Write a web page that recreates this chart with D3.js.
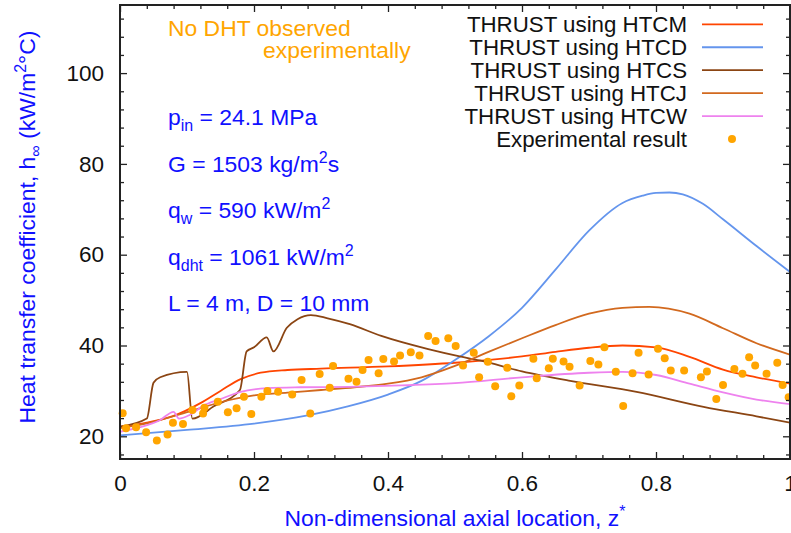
<!DOCTYPE html>
<html>
<head>
<meta charset="utf-8">
<script src="https://cdn.jsdelivr.net/npm/d3@7"></script>
<style>
  html, body { margin: 0; padding: 0; background: #fff; }
  svg { display: block; }
  text { font-family: "Liberation Sans", Arial, Helvetica, sans-serif; }
</style>
</head>
<body>
<svg id="chart" width="791" height="533"></svg>
<script>
// ---------------- data ----------------
const xMajorTicks = [0, 0.2, 0.4, 0.6, 0.8, 1];
const xTickLabels = ["0", "0.2", "0.4", "0.6", "0.8", "1"];
const yMajorTicks = [20, 40, 60, 80, 100];
const yTickLabels = ["20", "40", "60", "80", "100"];

const htcm = [[0,22.1],[0.04,23.0],[0.08,24.5],[0.12,27.3],[0.15,30.0],[0.18,32.6],[0.21,34.0],[0.25,34.6],[0.3,34.9],[0.4,35.4],[0.5,36.2],[0.6,37.6],[0.65,38.6],[0.7,39.5],[0.75,40.0],[0.8,39.6],[0.85,37.5],[0.9,34.7],[0.95,33.0],[1.0,31.6]];
const htcd = [[0,20.2],[0.1,21.4],[0.2,22.8],[0.28,24.6],[0.34,26.6],[0.4,29.2],[0.45,32.2],[0.5,36.8],[0.55,42.0],[0.6,48.3],[0.65,56.7],[0.7,65.3],[0.75,71.4],[0.78,73.0],[0.8,73.6],[0.82,73.7],[0.84,73.3],[0.87,71.2],[0.9,67.8],[0.95,61.9],[1.0,56.2]];
const htcs = [[0,22.1],[0.04,23.9],[0.05,31.8],[0.06,33.0],[0.1,34.2],[0.108,23.9],[0.14,26.6],[0.179,30.2],[0.189,38.7],[0.2,39.6],[0.219,41.8],[0.229,38.7],[0.249,43.9],[0.265,45.8],[0.285,46.7],[0.31,46.0],[0.343,44.7],[0.39,42.1],[0.46,39.2],[0.507,37.6],[0.537,36.7],[0.6,34.3],[0.672,32.2],[0.771,29.8],[0.871,26.5],[0.95,24.4],[1.0,23.0]];
const htcj = [[0,21.8],[0.05,23.2],[0.1,25.3],[0.15,27.5],[0.2,29.0],[0.25,29.6],[0.3,30.2],[0.35,30.8],[0.4,31.6],[0.45,33.0],[0.5,35.5],[0.55,38.6],[0.6,41.6],[0.65,44.5],[0.7,47.0],[0.75,48.3],[0.79,48.5],[0.85,47.0],[0.9,43.8],[0.95,40.5],[1.0,38.0]];
const htcw = [[0,21.0],[0.03,22.0],[0.06,23.6],[0.08,25.4],[0.088,23.9],[0.104,24.7],[0.124,26.7],[0.15,28.2],[0.18,29.8],[0.22,30.6],[0.27,30.8],[0.343,30.9],[0.42,31.2],[0.5,31.7],[0.6,33.0],[0.7,34.0],[0.75,34.2],[0.8,33.5],[0.85,31.6],[0.9,29.7],[0.95,28.1],[1.0,27.1]];
const experiment = [[0.004,25.1],[0.009,21.8],[0.024,22.0],[0.039,20.9],[0.055,19.1],[0.071,20.4],[0.079,23.0],[0.094,22.7],[0.108,25.8],[0.124,25.0],[0.126,26.3],[0.146,27.6],[0.161,25.3],[0.174,26.2],[0.185,28.7],[0.196,24.9],[0.211,28.7],[0.220,30.0],[0.236,29.8],[0.257,29.2],[0.271,32.4],[0.284,25.0],[0.298,33.7],[0.313,30.7],[0.318,35.5],[0.341,32.7],[0.353,32.0],[0.362,34.6],[0.371,36.8],[0.386,33.9],[0.393,37.0],[0.409,36.5],[0.418,37.8],[0.434,38.5],[0.447,37.8],[0.460,42.1],[0.471,41.0],[0.490,41.6],[0.501,39.9],[0.512,35.6],[0.528,38.4],[0.536,33.0],[0.549,36.4],[0.560,31.0],[0.578,35.1],[0.584,28.8],[0.596,31.2],[0.617,37.1],[0.622,32.8],[0.640,35.0],[0.646,37.1],[0.662,36.5],[0.671,35.3],[0.686,31.2],[0.702,36.6],[0.714,35.8],[0.723,39.6],[0.740,34.2],[0.751,26.7],[0.765,33.9],[0.774,38.4],[0.789,33.6],[0.803,39.3],[0.813,37.2],[0.822,34.5],[0.842,34.5],[0.867,33.0],[0.876,34.3],[0.890,28.2],[0.900,31.3],[0.917,34.8],[0.929,33.8],[0.939,37.4],[0.948,35.6],[0.965,33.8],[0.981,36.2],[0.989,31.3],[0.998,28.6]];

const seriesNames = ["THRUST using HTCM", "THRUST using HTCD", "THRUST using HTCS", "THRUST using HTCJ", "THRUST using HTCW"];
const seriesData = [htcm, htcd, htcs, htcj, htcw];
const seriesColors = ["#ff4500", "#6495ed", "#8b4513", "#d2691e", "#ee82ee"];
const expName = "Experimental result";
const expColor = "#ffa500";

// ---------------- layout ----------------
const svg = d3.select("#chart");
const pL = 120, pR = 790, pT = 5, pB = 459;
const x = d3.scaleLinear().domain([0, 1]).range([pL, pR]);
const y = d3.scaleLinear().domain([15, 115]).range([pB, pT]);

const xMinor = d3.range(0, 1.0001, 0.04).filter(v => Math.abs(v / 0.2 - Math.round(v / 0.2)) > 1e-6);
const yMinor = d3.range(16, 115, 4).filter(v => v % 20 !== 0);

svg.append("clipPath").attr("id", "clip").append("rect")
  .attr("x", pL).attr("y", pT).attr("width", pR - pL).attr("height", pB - pT);

// ---------------- lines ----------------
const line = d3.line().x(d => x(d[0])).y(d => y(d[1])).curve(d3.curveMonotoneX);
const gLines = svg.append("g").attr("clip-path", "url(#clip)");
seriesData.forEach((s, i) => {
  gLines.append("path").datum(s).attr("d", line)
    .attr("fill", "none").attr("stroke", seriesColors[i]).attr("stroke-width", 1.8);
});

// ---------------- points ----------------
svg.append("g").selectAll("circle").data(experiment).join("circle")
  .attr("cx", d => x(d[0])).attr("cy", d => y(d[1])).attr("r", 4)
  .attr("fill", expColor);

// ---------------- axes ----------------
const tickFont = 22.5, textFont = 22.9, legFont = 22.3;
function styleAxis(g) {
  g.select(".domain").remove();
  g.selectAll("line").attr("stroke", "#222").attr("stroke-width", 1.3);
  g.selectAll("text").attr("font-size", tickFont).attr("fill", "#111")
    .attr("font-family", '"Liberation Sans", Arial, sans-serif');
}
svg.append("g").attr("transform", `translate(0,${pB})`)
  .call(d3.axisBottom(x).tickValues(xMajorTicks).tickFormat((d, i) => xTickLabels[i]).tickSizeInner(-7).tickSizeOuter(0).tickPadding(16))
  .call(styleAxis);
svg.append("g").attr("transform", `translate(0,${pB})`)
  .call(d3.axisBottom(x).tickValues(xMinor).tickFormat("").tickSizeInner(-4).tickSizeOuter(0))
  .call(styleAxis);
svg.append("g").attr("transform", `translate(0,${pT})`)
  .call(d3.axisTop(x).tickValues(xMajorTicks).tickFormat("").tickSizeInner(-7).tickSizeOuter(0))
  .call(styleAxis);
svg.append("g").attr("transform", `translate(0,${pT})`)
  .call(d3.axisTop(x).tickValues(xMinor).tickFormat("").tickSizeInner(-4).tickSizeOuter(0))
  .call(styleAxis);
svg.append("g").attr("transform", `translate(${pL},0)`)
  .call(d3.axisLeft(y).tickValues(yMajorTicks).tickFormat((d, i) => yTickLabels[i]).tickSizeInner(-7).tickSizeOuter(0).tickPadding(16))
  .call(styleAxis);
svg.append("g").attr("transform", `translate(${pL},0)`)
  .call(d3.axisLeft(y).tickValues(yMinor).tickFormat("").tickSizeInner(-4).tickSizeOuter(0))
  .call(styleAxis);
svg.append("g").attr("transform", `translate(${pR},0)`)
  .call(d3.axisRight(y).tickValues(yMajorTicks).tickFormat("").tickSizeInner(-7).tickSizeOuter(0))
  .call(styleAxis);
svg.append("g").attr("transform", `translate(${pR},0)`)
  .call(d3.axisRight(y).tickValues(yMinor).tickFormat("").tickSizeInner(-4).tickSizeOuter(0))
  .call(styleAxis);

svg.append("rect").attr("x", pL).attr("y", pT).attr("width", pR - pL).attr("height", pB - pT)
  .attr("fill", "none").attr("stroke", "#222").attr("stroke-width", 2);

// ---------------- axis titles ----------------
const blue = "#1010ff";
const xt = svg.append("text").attr("x", (pL + pR) / 2).attr("y", 526)
  .attr("text-anchor", "middle").attr("font-size", textFont).attr("fill", blue);
xt.append("tspan").text("Non-dimensional axial location, z");
xt.append("tspan").attr("dy", -9).attr("font-size", 16).text("*");

const yt = svg.append("text").attr("transform", "translate(35,227) rotate(-90)")
  .attr("text-anchor", "middle").attr("font-size", textFont).attr("fill", blue);
yt.append("tspan").text("Heat transfer coefficient, h");
yt.append("tspan").attr("dy", 6).attr("font-size", 16).text("∞");
yt.append("tspan").attr("dy", -6).text(" (kW/m");
yt.append("tspan").attr("dy", -9).attr("font-size", 16).text("2");
yt.append("tspan").attr("dy", 9).text("°C)");

// ---------------- annotations ----------------
const orange = "#ffa500";
svg.append("text").attr("x", 168).attr("y", 36).attr("font-size", textFont).attr("fill", orange).text("No DHT observed");
svg.append("text").attr("x", 263).attr("y", 58).attr("font-size", textFont).attr("fill", orange).text("experimentally");

const params = [
  [["p", 0], ["in", 1], [" = 24.1 MPa", 0]],
  [["G = 1503 kg/m", 0], ["2", -1], ["s", 0]],
  [["q", 0], ["w", 1], [" = 590 kW/m", 0], ["2", -1]],
  [["q", 0], ["dht", 1], [" = 1061 kW/m", 0], ["2", -1]],
  [["L = 4 m, D = 10 mm", 0]]
];
const paramY = [125, 171.5, 218, 264.5, 311];
params.forEach((parts, i) => {
  const t = svg.append("text").attr("x", 168).attr("y", paramY[i]).attr("font-size", textFont).attr("fill", blue);
  let cur = 0;
  parts.forEach(([s, k]) => {
    const target = k === 1 ? 6 : (k === -1 ? -9 : 0);
    const ts = t.append("tspan").attr("dy", target - cur).text(s);
    if (k !== 0) ts.attr("font-size", 16);
    cur = target;
  });
});

// ---------------- legend ----------------
const legY0 = 24.3, legStep = 22.95;
seriesNames.forEach((name, i) => {
  const yy = legY0 + i * legStep;
  svg.append("text").attr("x", 687).attr("y", yy + 8).attr("text-anchor", "end")
    .attr("font-size", legFont).attr("fill", "#111").text(name);
  svg.append("line").attr("x1", 702).attr("x2", 763).attr("y1", yy).attr("y2", yy)
    .attr("stroke", seriesColors[i]).attr("stroke-width", 1.8);
});
{
  const yy = legY0 + 5 * legStep;
  svg.append("text").attr("x", 687).attr("y", yy + 8).attr("text-anchor", "end")
    .attr("font-size", legFont).attr("fill", "#111").text(expName);
  svg.append("circle").attr("cx", 732).attr("cy", yy).attr("r", 4).attr("fill", expColor);
}
</script>
</body>
</html>
